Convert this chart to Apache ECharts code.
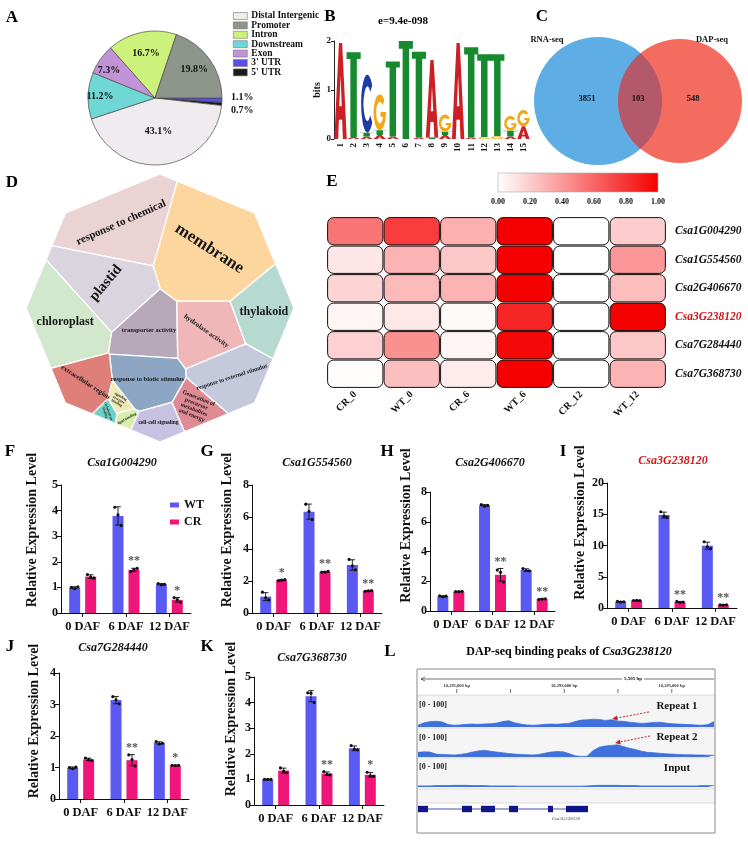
<!DOCTYPE html>
<html>
<head>
<meta charset="utf-8">
<title>Figure</title>
<script src="https://cdn.jsdelivr.net/npm/echarts@6.0.0/dist/echarts.min.js"></script>
<style>
html,body{margin:0;padding:0;background:#fff;}
#chart{width:748px;height:856px;}
</style>
</head>
<body>
<div id="chart"></div>
<script>
// ======================= DATA =======================
// A — peak annotation (%)
const annoNames = ['Distal Intergenic', 'Promoter', 'Intron', 'Downstream', 'Exon', "3' UTR", "5' UTR"];
const annoValues = [43.1, 19.8, 16.7, 11.2, 7.3, 1.1, 0.7];

// B — motif logo (bits per letter, bottom -> top)
const motifTitle = 'e=9.4e-098';
const motifPositions = ['1','2','3','4','5','6','7','8','9','10','11','12','13','14','15'];
const motifBits = [
  [['A', 1.96]],
  [['A', 0.04], ['T', 1.73]],
  [['A', 0.05], ['T', 0.08], ['C', 1.18]],
  [['A', 0.08], ['T', 0.10], ['G', 0.73]],
  [['A', 0.05], ['T', 1.53]],
  [['T', 2.00]],
  [['A', 0.03], ['T', 1.75]],
  [['T', 0.03], ['A', 1.58]],
  [['A', 0.08], ['T', 0.07], ['G', 0.35]],
  [['A', 1.96]],
  [['A', 0.03], ['T', 1.84]],
  [['G', 0.04], ['T', 1.69]],
  [['G', 0.06], ['T', 1.67]],
  [['A', 0.05], ['T', 0.12], ['G', 0.30]],
  [['A', 0.26], ['G', 0.33]]
];

// C — Venn
const vennSets = ['RNA-seq', 'DAP-seq'];
const vennCounts = [3851, 103, 548];   // RNA only, both, DAP only

// D — GO terms (relative area)
const goTerms = ['membrane', 'response to chemical', 'plastid', 'chloroplast', 'transporter activity',
  'hydrolase activity', 'thylakoid', 'response to external stimulus',
  'Generation of precursor metabolites and energy', 'response to biotic stimulus',
  'extracellular region', 'signaling receptor binding', 'carbohydrate binding', 'lipid binding',
  'cell-cell signaling'];
const goSizes = [98, 66, 50, 50, 32, 34, 34, 35, 15, 31, 24, 4, 3, 3, 13];

// E — heatmap
const heatSamples = ['CR_0', 'WT_0', 'CR_6', 'WT_6', 'CR_12', 'WT_12'];
const heatGenes = ['Csa1G004290', 'Csa1G554560', 'Csa2G406670', 'Csa3G238120', 'Csa7G284440', 'Csa7G368730'];
const heat_Csa1G004290 = [0.54, 0.76, 0.31, 1.00, 0.00, 0.20];
const heat_Csa1G554560 = [0.10, 0.30, 0.22, 1.00, 0.00, 0.41];
const heat_Csa2G406670 = [0.17, 0.27, 0.30, 1.00, 0.00, 0.26];
const heat_Csa3G238120 = [0.04, 0.09, 0.02, 0.85, 0.00, 1.00];
const heat_Csa7G284440 = [0.18, 0.43, 0.04, 0.97, 0.00, 0.22];
const heat_Csa7G368730 = [0.01, 0.25, 0.08, 1.00, 0.00, 0.30];
const colorbarTicks = [0, 0.2, 0.4, 0.6, 0.8, 1.0];
const highlightGene = 'Csa3G238120';

// F–K — qRT-PCR replicates (WT / CR)
const dafLabels = ['0 DAF', '6 DAF', '12 DAF'];
const qpcrGenes = ['Csa1G004290', 'Csa1G554560', 'Csa2G406670', 'Csa3G238120', 'Csa7G284440', 'Csa7G368730'];
const wt_Csa1G004290 = [[1.00, 0.95, 1.02], [4.13, 3.83, 3.42], [1.15, 1.10, 1.12]];
const cr_Csa1G004290 = [[1.50, 1.40, 1.36], [1.62, 1.70, 1.74], [0.60, 0.52, 0.42]];
const sig_Csa1G004290 = ['', '**', '*'];
const wt_Csa1G554560 = [[1.30, 0.95, 0.82], [6.80, 6.35, 5.85], [3.35, 2.95, 2.70]];
const cr_Csa1G554560 = [[2.02, 2.05, 2.08], [2.55, 2.56, 2.60], [1.36, 1.38, 1.40]];
const sig_Csa1G554560 = ['*', '**', '**'];
const wt_Csa2G406670 = [[1.02, 0.95, 1.00], [7.15, 7.05, 7.10], [2.85, 2.72, 2.70]];
const cr_Csa2G406670 = [[1.30, 1.30, 1.32], [2.75, 2.60, 1.95], [0.78, 0.80, 0.82]];
const sig_Csa2G406670 = ['', '**', '**'];
const wt_Csa3G238120 = [[1.05, 0.95, 1.00], [15.4, 14.7, 14.5], [10.6, 9.8, 9.5]];
const cr_Csa3G238120 = [[1.20, 1.22, 1.18], [1.05, 0.90, 0.95], [0.50, 0.48, 0.52]];
const sig_Csa3G238120 = ['', '**', '**'];
const wt_Csa7G284440 = [[1.00, 0.96, 1.01], [3.25, 3.15, 3.02], [1.82, 1.75, 1.77]];
const cr_Csa7G284440 = [[1.30, 1.25, 1.22], [1.40, 1.25, 1.05], [1.07, 1.06, 1.07]];
const sig_Csa7G284440 = ['', '**', '*'];
const wt_Csa7G368730 = [[1.00, 1.00, 1.00], [4.38, 4.37, 4.00], [2.32, 2.18, 2.15]];
const cr_Csa7G368730 = [[1.45, 1.32, 1.26], [1.30, 1.20, 1.18], [1.28, 1.14, 1.12]];
const sig_Csa7G368730 = ['', '**', '*'];

// L — DAP-seq coverage (0–100 scale, 50 bins across the window)
const peakGene = 'Csa3G238120';
const trackNames = ['Repeat 1', 'Repeat 2', 'Input'];
const trackRangeLabel = '[0 - 100]';
const covRepeat1 = [6,14,18,19,17,8,6,7,9,10,9,10,11,13,18,21,14,10,7,6,7,9,10,9,11,12,18,23,24,26,25,22,24,20,19,16,14,12,13,15,16,13,11,10,9,8,7,6,8,18];
const covRepeat2 = [16,18,17,10,9,8,7,9,12,17,21,23,20,17,15,12,10,9,8,7,9,13,17,19,18,12,4,2,3,22,34,38,40,42,36,30,26,20,16,15,13,11,10,9,8,8,7,7,6,6];
const covInput = [4,4,4,5,5,5,6,6,6,5,5,5,4,4,4,4,4,3,3,3,3,3,3,3,3,3,3,3,4,5,6,6,6,6,5,5,5,4,4,4,4,4,4,4,4,4,4,5,5,5];
const windowBp = [10290280, 10295785];
const rulerTicks = [10291000, 10292000, 10293000, 10294000, 10295000];
const rulerLabelTicks = [10291000, 10293000, 10295000];
const geneExons = [[10290280,10290466],[10291098,10291284],[10291452,10291712],[10291973,10292140],[10292698,10292791],[10293033,10293442]];

// ======================= STYLE / LAYOUT =======================
const SERIF = "'Liberation Serif','Times New Roman',serif";
function fnt(size, o) { o = o || {}; return (o.italic ? 'italic ' : 'normal ') + (o.weight || 'bold') + ' ' + size + 'px ' + SERIF; }
const annoColors = ['#efebef', '#8e968c', '#cdf27c', '#70d8d4', '#c393d8', '#5a4ce6', '#1a1a1a'];
const letterColors = { A: '#cc2027', C: '#1d3aa6', G: '#f3a712', T: '#178a2f' };
const letterPaths = {
  T: 'M0,0 L100,0 L100,8 L73,8 L73,100 L27,100 L27,8 L0,8 Z',
  A: 'M0,100 L37,0 L63,0 L100,100 L69,100 L63,80 L37,80 L31,100 Z M40,66 L60,66 L50,34 Z',
  C: 'M88,18 A50,50 0 1 0 88,82 L72,70 A30,30 0 1 1 72,30 Z',
  G: 'M88,18 A50,50 0 1 0 100,50 L56,50 L56,63 L78,63 A30,30 0 1 1 72,30 Z'
};
const letterWidthFactor = { A: 0.95, C: 0.85, G: 0.95, T: 1.08 };
const goColors = ['#fdd59f', '#ebd2d3', '#dad4de', '#d2e8cc', '#b7a9ba', '#efb7b8', '#b7dad0', '#c5c9dc',
  '#de8b95', '#8ca6c4', '#de8079', '#efeab5', '#6fd0c4', '#d8eeab', '#c8c2e2'];
const goSeeds = [[210,245],[115,218],[103,278],[62,315],[148,328],[210,327],[262,308],[228,370],
  [198,405],[145,375],[80,382],[123,392],[102,405],[127,408],[158,422]];
const goLabelStyle = [
  {size:17, rot:-33}, {size:11, rot:24}, {size:14.5, rot:50}, {size:12, rot:0}, {size:6.5, rot:0},
  {size:7, rot:-35}, {size:12, rot:0}, {size:6, rot:18}, {size:5.8, rot:-22}, {size:6.5, rot:0},
  {size:6.8, rot:-33}, {size:3.6, rot:-30}, {size:3.4, rot:-70}, {size:3.8, rot:30}, {size:5.5, rot:0}
];
const goWrap = {
  'Generation of precursor metabolites and energy': 'Generation of\nprecursor\nmetabolites\nand energy',
  'signaling receptor binding': 'signaling\nreceptor\nbinding',
  'carbohydrate binding': 'carbohydrate\nbinding'
};
const WT_COLOR = '#5a5af2', CR_COLOR = '#f01579';

// ======================= OPTION =======================
const option = { animation: false, backgroundColor: '#ffffff', textStyle: { fontFamily: SERIF },
  grid: [], xAxis: [], yAxis: [], series: [], legend: [], graphic: { elements: [] } };
const GE = option.graphic.elements;

function addCart(grid, xa, ya) {
  const gi = option.grid.length;
  option.grid.push(Object.assign({ containLabel: false, show: false }, grid));
  xa.gridIndex = gi; ya.gridIndex = gi;
  option.xAxis.push(xa); option.yAxis.push(ya);
  return { x: option.xAxis.length - 1, y: option.yAxis.length - 1 };
}
function gtext(x, y, text, size, o) {
  o = o || {};
  const el = { type: 'text', x: x, y: y, z: o.z || 20, silent: true,
    style: { text: text, font: fnt(size, o), fill: o.color || '#000',
      align: o.align || 'center', verticalAlign: o.va || 'middle',
      textAlign: o.align || 'center', textVerticalAlign: o.va || 'middle' } };
  if (o.rich) el.style.rich = o.rich;
  if (o.rotation) el.rotation = o.rotation;
  if (o.bg) { el.style.backgroundColor = o.bg; el.style.padding = [0, 2]; }
  GE.push(el);
  return el;
}
const hiddenAxis = (extra) => Object.assign({ show: false, axisLine: { show: false }, axisTick: { show: false }, axisLabel: { show: false }, splitLine: { show: false } }, extra || {});

// ---------- panel letters
const panelLetters = ['A','B','C','D','E','F','G','H','I','J','K','L'];
const panelLetterXY = [[12,18],[330,17],[542,17],[12,183],[332,182],[10,452],[207,452],[387,452],[563,452],[10,647],[207,647],[390,652]];
panelLetters.forEach((t, i) => gtext(panelLetterXY[i][0], panelLetterXY[i][1], t, 17));

// ---------- A: pie
const pieOrder = [5, 6, 0, 3, 4, 2, 1];
const pieCenter = [155, 98], pieRadius = 67;
const pieLabelFactor = [0.5, 0.72, 0.68, 0.82, 0.84, null, null];
const pieSmallDy = { 5: -0.5, 6: 12 };
const pieTotal = annoValues.reduce((a, b) => a + b, 0);
const pieMid = {};
(function () { let cum = 0; pieOrder.forEach(i => { pieMid[i] = (cum + annoValues[i] / 2) / pieTotal * 2 * Math.PI; cum += annoValues[i]; }); })();
option.series.push({
  type: 'pie', silent: true, center: pieCenter, radius: [0, pieRadius], startAngle: 0, clockwise: true,
  avoidLabelOverlap: false,
  data: pieOrder.map(i => ({ name: annoNames[i], value: annoValues[i], itemStyle: { color: annoColors[i] } })),
  itemStyle: { borderColor: '#4a4a4a', borderWidth: 0.7 },
  label: { show: true, position: 'inside', formatter: p => p.value.toFixed(1) + '%',
    fontFamily: SERIF, fontWeight: 'bold', fontSize: 10, color: '#111' },
  labelLine: { show: false },
  labelLayout: function (p) {
    const i = pieOrder[p.dataIndex]; const a = pieMid[i];
    if (pieLabelFactor[i] != null) {
      const f = pieLabelFactor[i] * pieRadius;
      return { x: pieCenter[0] + f * Math.cos(a), y: pieCenter[1] + f * Math.sin(a) + (i === 4 ? 5 : 0), align: 'center', verticalAlign: 'middle' };
    }
    return { x: pieCenter[0] + pieRadius + 9, y: pieCenter[1] + pieSmallDy[i], align: 'left', verticalAlign: 'middle' };
  }
});
option.legend.push({
  data: annoNames, left: 233, top: 11, padding: 0, orient: 'vertical', itemWidth: 14, itemHeight: 7, itemGap: -0.6,
  icon: 'rect', selectedMode: false,
  itemStyle: { borderColor: '#777', borderWidth: 0.6 },
  textStyle: { fontFamily: SERIF, fontWeight: 'bold', fontSize: 9.5, color: '#111', lineHeight: 9.2, padding: [0, 0, 0, -1] }
});

// ---------- B: motif logo
gtext(403, 21, motifTitle, 11);
(function () {
  const ax = addCart({ left: 334, top: 41, width: 196, height: 98 },
    { type: 'category', data: motifPositions, axisLine: { show: false }, axisTick: { show: false },
      axisLabel: { interval: 0, rotate: 90, margin: 4, fontFamily: SERIF, fontWeight: 'bold', fontSize: 9, color: '#111' } },
    { type: 'value', min: 0, max: 2, interval: 1, axisLine: { show: true, lineStyle: { color: '#222', width: 1 } },
      axisTick: { show: true, length: 3, lineStyle: { color: '#222' } }, splitLine: { show: false },
      axisLabel: { margin: 3, fontFamily: SERIF, fontWeight: 'bold', fontSize: 9, color: '#111' },
      name: 'bits', nameLocation: 'middle', nameRotate: 90, nameGap: 12,
      nameTextStyle: { fontFamily: SERIF, fontWeight: 'bold', fontSize: 10, color: '#111' } });
  const items = [];
  motifBits.forEach((stack, pos) => { let y = 0; stack.forEach(([L, b]) => { items.push([pos, y, y + b, 'ACGT'.indexOf(L)]); y += b; }); });
  option.series.push({
    type: 'custom', silent: true, xAxisIndex: ax.x, yAxisIndex: ax.y, data: items,
    encode: { x: 0, y: [1, 2] },
    renderItem: function (params, api) {
      const pos = api.value(0), y0 = api.value(1), y1 = api.value(2), L = 'ACGT'[api.value(3)];
      const p0 = api.coord([pos, y0]), p1 = api.coord([pos, y1]);
      const bw = api.size([1, 0])[0] * letterWidthFactor[L];
      const h = p0[1] - p1[1];
      if (h < 0.4) return { type: 'group', children: [] };
      return { type: 'path', shape: { pathData: letterPaths[L], x: p0[0] - bw / 2, y: p1[1], width: bw, height: h, layout: 'cover' },
        style: { fill: letterColors[L] } };
    }
  });
})();

// ---------- C: Venn
const vennCircles = [{ cx: 598, cy: 101, r: 64, fill: '#5eaee5' }, { cx: 680, cy: 101, r: 62, fill: '#f46c60' }];
const vennLensColor = '#b4596a';
const vennNameXY = [[547, 40], [712, 40]];
const vennCountX = [587, 638, 693];
option.series.push({
  type: 'custom', coordinateSystem: 'none', silent: true, data: [[0]],
  renderItem: function () {
    const c1 = vennCircles[0], c2 = vennCircles[1];
    const d = c2.cx - c1.cx;
    const a = (c1.r * c1.r - c2.r * c2.r + d * d) / (2 * d);
    const h = Math.sqrt(c1.r * c1.r - a * a);
    const t1 = Math.atan2(h, a), t2 = Math.atan2(h, d - a);
    const pts = [];
    for (let k = 0; k <= 40; k++) { const t = -t1 + 2 * t1 * k / 40; pts.push([c1.cx + c1.r * Math.cos(t), c1.cy + c1.r * Math.sin(t)]); }
    for (let k = 0; k <= 40; k++) { const t = Math.PI - t2 + 2 * t2 * k / 40; pts.push([c2.cx + c2.r * Math.cos(t), c2.cy + c2.r * Math.sin(t)]); }
    const kids = [
      { type: 'circle', shape: { cx: c1.cx, cy: c1.cy, r: c1.r }, style: { fill: c1.fill } },
      { type: 'circle', shape: { cx: c2.cx, cy: c2.cy, r: c2.r }, style: { fill: c2.fill } },
      { type: 'polygon', shape: { points: pts }, style: { fill: vennLensColor } }
    ];
    vennSets.forEach((s, i) => kids.push({ type: 'text', x: vennNameXY[i][0], y: vennNameXY[i][1],
      style: { text: s, font: fnt(8.5), fill: '#111', align: 'center', verticalAlign: 'middle' } }));
    vennCounts.forEach((v, i) => kids.push({ type: 'text', x: vennCountX[i], y: 99,
      style: { text: String(v), font: fnt(8.5), fill: '#111', align: 'center', verticalAlign: 'middle' } }));
    return { type: 'group', children: kids };
  }
});

// ---------- D: Voronoi treemap (power diagram, weights fitted to sizes)
const octCenter = [160, 308], octR = 134, octSides = 8;
const octagon = [];
for (let k = 0; k < octSides; k++) { const a = Math.PI / 2 - k * 2 * Math.PI / octSides; octagon.push([octCenter[0] + octR * Math.cos(a), octCenter[1] - octR * Math.sin(a)]); }
function clipPoly(poly, a, b, c) {
  const out = [];
  for (let i = 0; i < poly.length; i++) {
    const P = poly[i], Q = poly[(i + 1) % poly.length];
    const fp = a * P[0] + b * P[1] - c, fq = a * Q[0] + b * Q[1] - c;
    if (fp <= 0) out.push(P);
    if ((fp < 0 && fq > 0) || (fp > 0 && fq < 0)) { const t = fp / (fp - fq); out.push([P[0] + t * (Q[0] - P[0]), P[1] + t * (Q[1] - P[1])]); }
  }
  return out;
}
function powerCells(sites, w, outer) {
  return sites.map((p, i) => {
    let poly = outer.slice();
    for (let j = 0; j < sites.length; j++) {
      if (i === j || poly.length < 3) continue;
      const q = sites[j];
      poly = clipPoly(poly, 2 * (q[0] - p[0]), 2 * (q[1] - p[1]), (q[0] * q[0] + q[1] * q[1]) - (p[0] * p[0] + p[1] * p[1]) + w[i] - w[j]);
    }
    return poly;
  });
}
function polyArea(poly) { let s = 0; for (let i = 0; i < poly.length; i++) { const P = poly[i], Q = poly[(i + 1) % poly.length]; s += P[0] * Q[1] - Q[0] * P[1]; } return Math.abs(s) / 2; }
function polyCentroid(poly) {
  let s = 0, cx = 0, cy = 0;
  for (let i = 0; i < poly.length; i++) { const P = poly[i], Q = poly[(i + 1) % poly.length]; const cr = P[0] * Q[1] - Q[0] * P[1]; s += cr; cx += (P[0] + Q[0]) * cr; cy += (P[1] + Q[1]) * cr; }
  if (Math.abs(s) < 1e-9) return poly[0];
  return [cx / (3 * s), cy / (3 * s)];
}
const goCells = (function () {
  const total = polyArea(octagon), sum = goSizes.reduce((a, b) => a + b, 0);
  const target = goSizes.map(v => v / sum * total);
  const w = goSeeds.map(() => 0);
  let cells = powerCells(goSeeds, w, octagon);
  for (let it = 0; it < 500; it++) {
    const areas = cells.map(c => c.length >= 3 ? polyArea(c) : 0);
    for (let i = 0; i < w.length; i++) w[i] += 0.8 * (target[i] - areas[i]) / Math.PI;
    cells = powerCells(goSeeds, w, octagon);
  }
  return cells;
})();
option.series.push({
  type: 'custom', coordinateSystem: 'none', silent: true,
  data: goTerms.map((t, i) => [i, goSizes[i]]),
  renderItem: function (params) {
    const i = params.dataIndex, poly = goCells[i];
    if (!poly || poly.length < 3) return { type: 'group', children: [] };
    const c = polyCentroid(poly), st = goLabelStyle[i];
    return { type: 'group', children: [
      { type: 'polygon', shape: { points: poly }, style: { fill: goColors[i], stroke: '#ffffff', lineWidth: 1.3 } },
      { type: 'text', x: c[0], y: c[1], rotation: st.rot * Math.PI / 180, z2: 5,
        style: { text: goWrap[goTerms[i]] || goTerms[i], font: fnt(st.size), fill: '#151515',
          align: 'center', verticalAlign: 'middle', lineHeight: st.size * 1.05 } }
    ] };
  }
});

// ---------- E: heatmap + colour bar
function heatColor(v) { const g = Math.round(255 * (1 - v)); const r = Math.round(255 - 11 * v); return 'rgb(' + r + ',' + g + ',' + g + ')'; }
(function () {
  const cb = addCart({ left: 498, top: 173, width: 160, height: 19 },
    { type: 'value', min: 0, max: 1, interval: 0.2, axisLine: { show: false }, axisTick: { show: false }, splitLine: { show: false },
      axisLabel: { margin: 6, formatter: v => v.toFixed(2), fontFamily: SERIF, fontWeight: 'bold', fontSize: 8, color: '#111' } },
    hiddenAxis({ type: 'value', min: 0, max: 1 }));
  option.series.push({
    type: 'custom', silent: true, xAxisIndex: cb.x, yAxisIndex: cb.y, data: [[colorbarTicks[0], 0, colorbarTicks[colorbarTicks.length - 1], 1]],
    renderItem: function (params, api) {
      const p0 = api.coord([api.value(0), api.value(1)]), p1 = api.coord([api.value(2), api.value(3)]);
      return { type: 'rect', shape: { x: p0[0], y: p1[1], width: p1[0] - p0[0], height: p0[1] - p1[1] },
        style: { fill: { type: 'linear', x: 0, y: 0, x2: 1, y2: 0, colorStops: [{ offset: 0, color: heatColor(0) }, { offset: 1, color: heatColor(1) }] },
          stroke: '#aaaaaa', lineWidth: 0.6 } };
    }
  });
  const hm = addCart({ left: 327, top: 217, width: 339, height: 171 },
    { type: 'category', data: heatSamples, axisLine: { show: false }, axisTick: { show: false },
      axisLabel: { interval: 0, rotate: 45, margin: 5, fontFamily: SERIF, fontWeight: 'bold', fontSize: 10, color: '#111' } },
    { type: 'category', data: heatGenes, inverse: true, position: 'right', axisLine: { show: false }, axisTick: { show: false },
      axisLabel: { interval: 0, margin: 9, formatter: v => (v === highlightGene ? '{h|' + v + '}' : '{n|' + v + '}'),
        rich: { n: { fontFamily: SERIF, fontStyle: 'italic', fontWeight: 'bold', fontSize: 11.5, color: '#111' },
                h: { fontFamily: SERIF, fontStyle: 'italic', fontWeight: 'bold', fontSize: 11.5, color: '#d0161b' } } } });
  const rows = [heat_Csa1G004290, heat_Csa1G554560, heat_Csa2G406670, heat_Csa3G238120, heat_Csa7G284440, heat_Csa7G368730];
  const cells = [];
  rows.forEach((r, ri) => r.forEach((v, ci) => cells.push([ci, ri, v])));
  option.series.push({
    type: 'custom', silent: true, xAxisIndex: hm.x, yAxisIndex: hm.y, data: cells,
    renderItem: function (params, api) {
      const c = api.coord([api.value(0), api.value(1)]), s = api.size([1, 1]);
      return { type: 'rect', shape: { x: c[0] - s[0] / 2 + 0.6, y: c[1] - s[1] / 2 + 0.6, width: s[0] - 1.2, height: s[1] - 1.2, r: 6 },
        style: { fill: heatColor(api.value(2)), stroke: '#111', lineWidth: 1 } };
    }
  });
})();

// ---------- F–K: qPCR bar charts
const qpcrData = {
  'Csa1G004290': [wt_Csa1G004290, cr_Csa1G004290, sig_Csa1G004290],
  'Csa1G554560': [wt_Csa1G554560, cr_Csa1G554560, sig_Csa1G554560],
  'Csa2G406670': [wt_Csa2G406670, cr_Csa2G406670, sig_Csa2G406670],
  'Csa3G238120': [wt_Csa3G238120, cr_Csa3G238120, sig_Csa3G238120],
  'Csa7G284440': [wt_Csa7G284440, cr_Csa7G284440, sig_Csa7G284440],
  'Csa7G368730': [wt_Csa7G368730, cr_Csa7G368730, sig_Csa7G368730]
};
const qpcrLayout = [
  { left: 61, top: 485, width: 130, height: 128, max: 5, interval: 1, nameGap: 22, shift: 19, title: [122, 463] },
  { left: 252, top: 485, width: 130, height: 128, max: 8, interval: 2, nameGap: 18, shift: 19, title: [317, 463] },
  { left: 430, top: 492, width: 125, height: 119, max: 8, interval: 2, nameGap: 17, shift: 26, title: [490, 463] },
  { left: 607, top: 483, width: 130, height: 125, max: 20, interval: 5, nameGap: 20, shift: 23, title: [673, 461], red: true },
  { left: 59, top: 673, width: 130, height: 126, max: 4, interval: 1, nameGap: 18, shift: 15, title: [113, 648] },
  { left: 254, top: 677, width: 130, height: 128, max: 5, interval: 1, nameGap: 16, shift: 22, title: [312, 658] }
];
const mean = a => a.reduce((s, v) => s + v, 0) / a.length;
const sdev = a => { const m = mean(a); return Math.sqrt(a.reduce((s, v) => s + (v - m) * (v - m), 0) / (a.length - 1)); };
const dotJitter = [-3.2, 0, 3.2];
function errSeries(ax, reps, off, sig) {
  return {
    type: 'custom', silent: true, z: 3, xAxisIndex: ax.x, yAxisIndex: ax.y,
    data: reps.map((r, i) => [i, mean(r), sdev(r)]),
    renderItem: function (params, api) {
      const i = params.dataIndex, m = api.value(1), sd = api.value(2);
      const top = api.coord([i, m + sd]), bot = api.coord([i, Math.max(0, m - sd)]), mid = api.coord([i, m]);
      const x = mid[0] + off;
      const ln = (x1, y1, x2, y2) => ({ type: 'line', shape: { x1: x1, y1: y1, x2: x2, y2: y2 }, style: { stroke: '#111', lineWidth: 0.9 } });
      const kids = [ln(x, top[1], x, bot[1]), ln(x - 2.8, top[1], x + 2.8, top[1]), ln(x - 2.8, bot[1], x + 2.8, bot[1])];
      reps[i].forEach((r, k) => { const p = api.coord([i, r]); kids.push({ type: 'circle', shape: { cx: x + dotJitter[k], cy: p[1], r: 1.6 }, style: { fill: '#111' } }); });
      if (sig && sig[i]) {
        const ymax = Math.max(m + sd, Math.max.apply(null, reps[i]));
        const p = api.coord([i, ymax]);
        kids.push({ type: 'text', x: x, y: p[1] - 1, style: { text: sig[i], font: fnt(12), fill: '#555', align: 'center', verticalAlign: 'bottom' } });
      }
      return { type: 'group', children: kids };
    }
  };
}
qpcrGenes.forEach((gene, gi) => {
  const L = qpcrLayout[gi], d = qpcrData[gene];
  const ax = addCart({ left: L.left, top: L.top, width: L.width, height: L.height },
    { type: 'category', data: dafLabels, axisLine: { show: true, lineStyle: { color: '#111', width: 1 } },
      axisTick: { show: true, alignWithLabel: true, length: 4, lineStyle: { color: '#111' } },
      axisLabel: { interval: 0, hideOverlap: false, margin: 7, fontFamily: SERIF, fontWeight: 'bold', fontSize: 12.5, color: '#111' } },
    { type: 'value', min: 0, max: L.max, interval: L.interval, axisLine: { show: true, lineStyle: { color: '#111', width: 1 } },
      axisTick: { show: true, length: 4, lineStyle: { color: '#111' } }, splitLine: { show: false },
      axisLabel: { margin: 3, fontFamily: SERIF, fontWeight: 'bold', fontSize: 12, color: '#111' },
      name: 'Relative Expression Level', nameLocation: 'middle', nameRotate: 90, nameGap: L.nameGap,
      nameTextStyle: { fontFamily: SERIF, fontWeight: 'bold', fontSize: 14, color: '#111', padding: [0, 0, 0, L.shift * 2] } });
  option.series.push({ type: 'bar', name: 'WT', silent: true, xAxisIndex: ax.x, yAxisIndex: ax.y, barWidth: 11, barGap: '45%',
    itemStyle: { color: WT_COLOR }, data: d[0].map(mean) });
  option.series.push({ type: 'bar', name: 'CR', silent: true, xAxisIndex: ax.x, yAxisIndex: ax.y, barWidth: 11, barGap: '45%',
    itemStyle: { color: CR_COLOR }, data: d[1].map(mean) });
  option.series.push(errSeries(ax, d[0], -8, null));
  option.series.push(errSeries(ax, d[1], 8, d[2]));
  gtext(L.title[0], L.title[1], gene, 12, { italic: true, color: L.red ? '#cc1b1b' : '#111' });
});
option.legend.push({
  data: ['WT', 'CR'], left: 165, top: 494, orient: 'vertical', itemWidth: 9, itemHeight: 5, itemGap: 5, icon: 'rect',
  selectedMode: false, textStyle: { fontFamily: SERIF, fontWeight: 'bold', fontSize: 12, color: '#111' }
});

// ---------- L: DAP-seq peak browser
gtext(569, 652, '{a|DAP-seq binding peaks of }{b|' + peakGene + '}', 12, {
  rich: { a: { fontFamily: SERIF, fontWeight: 'bold', fontSize: 12, color: '#111' },
          b: { fontFamily: SERIF, fontWeight: 'bold', fontStyle: 'italic', fontSize: 12, color: '#111' } } });
const browserBox = { x: 417, y: 669, w: 298, h: 164 };
GE.push({ type: 'rect', z: 0, silent: true, shape: { x: 417, y: 695, width: 298, height: 108 }, style: { fill: '#f5f5f5' } });
GE.push({ type: 'rect', z: 30, silent: true, shape: { x: browserBox.x, y: browserBox.y, width: browserBox.w, height: browserBox.h }, style: { fill: 'none', stroke: '#8a8a8a', lineWidth: 1 } });
[695, 728, 758, 789, 803].forEach(y => GE.push({ type: 'line', z: 1, silent: true, shape: { x1: 417, y1: y, x2: 715, y2: y }, style: { stroke: '#d4d4d4', lineWidth: 0.8 } }));
// ruler
GE.push({ type: 'line', z: 5, silent: true, shape: { x1: 421, y1: 679, x2: 714, y2: 679 }, style: { stroke: '#333', lineWidth: 0.7 } });
GE.push({ type: 'polyline', z: 5, silent: true, shape: { points: [[425, 677], [421, 679], [425, 681]] }, style: { stroke: '#333', lineWidth: 0.7, fill: 'none' } });
gtext(633, 679, (windowBp[1] - windowBp[0]).toLocaleString('en-US') + ' bp', 5, { bg: '#ffffff' });
(function () {
  const rx = addCart({ left: 418, top: 684, width: 296, height: 10 },
    hiddenAxis({ type: 'value', min: windowBp[0], max: windowBp[1] }), hiddenAxis({ type: 'value', min: 0, max: 1 }));
  option.series.push({
    type: 'custom', silent: true, xAxisIndex: rx.x, yAxisIndex: rx.y, data: rulerTicks.map(t => [t, 0]),
    renderItem: function (params, api) {
      const t = api.value(0), p = api.coord([t, 0]);
      const kids = [{ type: 'line', shape: { x1: p[0], y1: 689, x2: p[0], y2: 693 }, style: { stroke: '#333', lineWidth: 0.7 } }];
      if (rulerLabelTicks.indexOf(t) >= 0) kids.push({ type: 'text', x: p[0], y: 686,
        style: { text: t.toLocaleString('en-US') + ' bp', font: 'normal bold 4.5px ' + SERIF, fill: '#333', align: 'center', verticalAlign: 'middle' } });
      return { type: 'group', children: kids };
    }
  });
})();
// coverage tracks
const trackLayout = [{ top: 697, height: 30, labelY: 705, nameY: 706 }, { top: 728, height: 29, labelY: 738, nameY: 737 }, { top: 759, height: 28, labelY: 767, nameY: 768 }];
[covRepeat1, covRepeat2, covInput].forEach((cov, ti) => {
  const T = trackLayout[ti];
  const ax = addCart({ left: 418, top: T.top, width: 296, height: T.height },
    hiddenAxis({ type: 'category', boundaryGap: false, data: cov.map((v, i) => i) }), hiddenAxis({ type: 'value', min: 0, max: 100 }));
  option.series.push({ type: 'line', silent: true, xAxisIndex: ax.x, yAxisIndex: ax.y, data: cov, symbol: 'none', z: 4,
    lineStyle: { color: '#3a6bd8', width: 0.7 }, areaStyle: { color: '#3f70dc', opacity: 1 } });
  gtext(419, T.labelY, trackRangeLabel, 8, { align: 'left', weight: 'bold', color: '#222' });
  gtext(677, T.nameY, trackNames[ti], 11, { color: '#111' });
});
// red dashed arrows
const peakArrows = [[[649, 712], [612, 719]], [[650, 736], [615, 743]]];
peakArrows.forEach(([s, e]) => {
  GE.push({ type: 'line', z: 40, silent: true, shape: { x1: s[0], y1: s[1], x2: e[0] + 4, y2: e[1] - 0.8 }, style: { stroke: '#c0262c', lineWidth: 1, lineDash: [2, 1.5] } });
  const ang = Math.atan2(e[1] - s[1], e[0] - s[0]);
  const hx = (r, a) => [e[0] - r * Math.cos(ang + a), e[1] - r * Math.sin(ang + a)];
  GE.push({ type: 'polygon', z: 40, silent: true, shape: { points: [e, hx(6, 0.45), hx(6, -0.45)] }, style: { fill: '#c0262c' } });
});
// gene model
(function () {
  const gx = addCart({ left: 418, top: 803, width: 296, height: 30 },
    hiddenAxis({ type: 'value', min: windowBp[0], max: windowBp[1] }), hiddenAxis({ type: 'value', min: 0, max: 1 }));
  option.series.push({
    type: 'custom', silent: true, xAxisIndex: gx.x, yAxisIndex: gx.y, data: geneExons.map(e => [e[0], e[1]]),
    encode: { x: [0, 1] },
    renderItem: function (params, api) {
      const i = params.dataIndex;
      const a = api.coord([api.value(0), 0.8]), b = api.coord([api.value(1), 0.8]);
      const kids = [];
      if (i === 0) {
        const g0 = api.coord([geneExons[0][0], 0.8]), g1 = api.coord([geneExons[geneExons.length - 1][1], 0.8]);
        kids.push({ type: 'line', shape: { x1: g0[0], y1: g0[1], x2: g1[0], y2: g1[1] }, style: { stroke: '#1b2496', lineWidth: 0.8 } });
      }
      kids.push({ type: 'rect', shape: { x: a[0], y: a[1] - 3.2, width: Math.max(1, b[0] - a[0]), height: 6.4 }, style: { fill: '#10168a' } });
      if (i === geneExons.length - 1) kids.push({ type: 'text', x: a[0], y: a[1] + 10,
        style: { text: peakGene, font: 'normal normal 5px ' + SERIF, fill: '#444', align: 'center', verticalAlign: 'middle' } });
      return { type: 'group', children: kids };
    }
  });
})();

const chart = echarts.init(document.getElementById('chart'), null, { renderer: 'canvas', width: 748, height: 856 });
chart.setOption(option);
</script>
</body>
</html>
